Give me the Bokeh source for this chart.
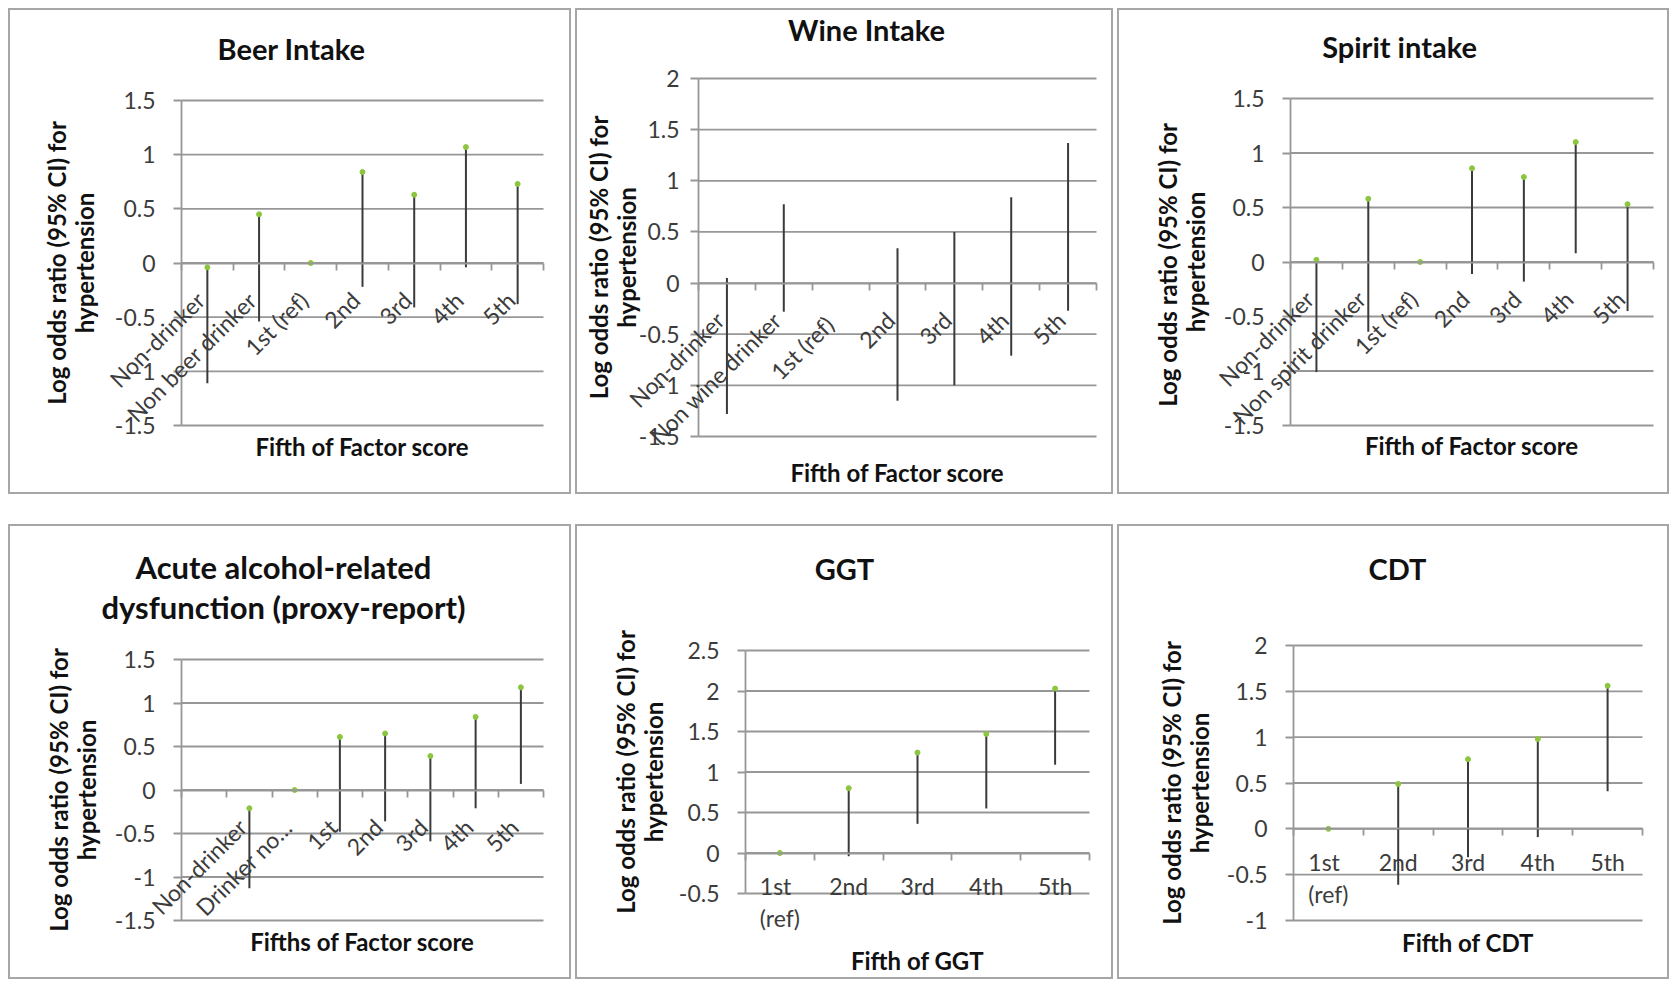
import math
from bokeh.plotting import figure
from bokeh.layouts import row, column
from bokeh.models import (FixedTicker, ColumnDataSource, Range1d, NumeralTickFormatter,
                          LabelSet, Label)
from bokeh.core.properties import value
from bokeh.embed import file_html
from bokeh.resources import INLINE

# ---------------- data ----------------
beer_categories = ["Non-drinker", "Non beer drinker", "1st (ref)", "2nd", "3rd", "4th", "5th"]
beer_high = [-0.04, 0.45, 0.0, 0.84, 0.63, 1.07, 0.73]
beer_low = [-1.11, -0.54, 0.0, -0.22, -0.41, -0.04, -0.38]
beer_point = [-0.04, 0.45, 0.0, 0.84, 0.63, 1.07, 0.73]
beer_yticks = [-1.5, -1, -0.5, 0, 0.5, 1, 1.5]

wine_categories = ["Non-drinker", "Non wine drinker", "1st  (ref)", "2nd", "3rd", "4th", "5th"]
wine_high = [0.05, 0.77, None, 0.34, 0.50, 0.84, 1.37]
wine_low = [-1.28, -0.28, None, -1.15, -1.00, -0.71, -0.27]
wine_point = [None, None, None, None, None, None, None]
wine_yticks = [-1.5, -1, -0.5, 0, 0.5, 1, 1.5, 2]

spirit_categories = ["Non-drinker", "Non spirit drinker", "1st (ref)", "2nd", "3rd", "4th", "5th"]
spirit_high = [0.02, 0.58, 0.0, 0.86, 0.78, 1.10, 0.53]
spirit_low = [-1.01, -0.64, 0.0, -0.11, -0.18, 0.08, -0.45]
spirit_point = [0.02, 0.58, 0.0, 0.86, 0.78, 1.10, 0.53]
spirit_yticks = [-1.5, -1, -0.5, 0, 0.5, 1, 1.5]

acute_categories = ["", "Non-drinker", "Drinker no\u2026", "1st", "2nd", "3rd", "4th", "5th"]
acute_high = [None, -0.21, 0.0, 0.61, 0.65, 0.39, 0.84, 1.18]
acute_low = [None, -1.13, 0.0, -0.48, -0.36, -0.59, -0.21, 0.07]
acute_point = [None, -0.21, 0.0, 0.61, 0.65, 0.39, 0.84, 1.18]
acute_yticks = [-1.5, -1, -0.5, 0, 0.5, 1, 1.5]

ggt_categories = ["1st\n(ref)", "2nd", "3rd", "4th", "5th"]
ggt_high = [0.0, 0.80, 1.24, 1.47, 2.03]
ggt_low = [0.0, -0.04, 0.36, 0.55, 1.09]
ggt_point = [0.0, 0.80, 1.24, 1.47, 2.03]
ggt_yticks = [-0.5, 0, 0.5, 1, 1.5, 2, 2.5]

cdt_categories = ["1st\n(ref)", "2nd", "3rd", "4th", "5th"]
cdt_high = [0.0, 0.49, 0.76, 0.98, 1.56]
cdt_low = [0.0, -0.61, -0.31, -0.09, 0.41]
cdt_point = [0.0, 0.49, 0.76, 0.98, 1.56]
cdt_yticks = [-1, -0.5, 0, 0.5, 1, 1.5, 2]

YLABEL = "Log odds ratio (95% CI) for\nhypertension"
YLABEL_SPIRIT = "Log odds ratio (95% CI)  for\nhypertension"

# ---------------- style ----------------
FONT = "Lato"
GRID = "#979797"
BAR = "#3a3a3a"
GREEN = "#8cc63f"
TXT = "#3c3c3c"
DARK = "#111111"
BORDER = 2


def nan(v):
    return float("nan") if v is None else v


def make_panel(title, cats, high, low, point, yticks, xtitle, ylabel,
               w, h, area, title_pos, xtitle_y, rotated,
               tick_standoff, ylabel_standoff, title_size=29, title_lh=1.1):
    n = len(cats)
    xs = list(range(1, n + 1))
    ymin, ymax = yticks[0], yticks[-1]
    vw, vh = w - 2 * BORDER, h - 2 * BORDER   # visible drawing area inside the border
    L, R, T, B = area                          # plot-area margins in pixels
    kx = (vw - L - R) / n
    ky = (vh - T - B) / (ymax - ymin)
    x_range = Range1d(0.5 - L / kx, n + 0.5 + (R + 2 * BORDER) / kx)
    y_range = Range1d(ymin - (B + 2 * BORDER) / ky, ymax + T / ky)

    p = figure(width=w, height=h, output_backend="svg", toolbar_location=None,
               x_range=x_range, y_range=y_range,
               min_border_left=0, min_border_right=0, min_border_top=0, min_border_bottom=0)
    p.styles = {"border": f"{BORDER}px solid #a6a6a6", "box-sizing": "border-box"}
    p.outline_line_color = None
    p.background_fill_color = "white"
    p.border_fill_color = "white"
    p.xgrid.grid_line_color = None
    p.ygrid.grid_line_color = None

    # horizontal gridlines across the plot area
    gsrc = ColumnDataSource(data=dict(y=yticks, x0=[0.5] * len(yticks),
                                      x1=[n + 0.5] * len(yticks)))
    p.segment(x0="x0", y0="y", x1="x1", y1="y", source=gsrc,
              line_color=GRID, line_width=1.8)

    # vertical axis
    yax = p.yaxis[0]
    yax.fixed_location = 0.5
    yax.bounds = (ymin, ymax)
    yax.ticker = FixedTicker(ticks=yticks)
    yax.formatter = NumeralTickFormatter(format="0.[0]")
    yax.axis_line_color = GRID
    yax.axis_line_width = 1.8
    yax.major_tick_line_color = GRID
    yax.major_tick_line_width = 1.8
    yax.major_tick_out = 8
    yax.major_tick_in = 0
    yax.minor_tick_line_color = None
    yax.major_label_standoff = tick_standoff
    yax.major_label_text_font = FONT
    yax.major_label_text_font_size = "23px"
    yax.major_label_text_color = TXT
    yax.axis_label = ylabel
    yax.axis_label_text_font = FONT
    yax.axis_label_text_font_size = "24px"
    yax.axis_label_text_font_style = "bold"
    yax.axis_label_text_color = DARK
    yax.axis_label_text_line_height = 0.95
    yax.axis_label_standoff = ylabel_standoff

    # horizontal axis crossing at y = 0 (tick marks between categories)
    xax = p.xaxis[0]
    xax.fixed_location = 0
    xax.bounds = (0.5, n + 0.5)
    xax.ticker = FixedTicker(ticks=[], minor_ticks=[i + 0.5 for i in range(0, n + 1)])
    xax.axis_line_color = GRID
    xax.axis_line_width = 1.8
    xax.major_tick_line_color = None
    xax.major_tick_out = 0
    xax.major_tick_in = 0
    xax.minor_tick_line_color = GRID
    xax.minor_tick_line_width = 1.8
    xax.minor_tick_out = 7
    xax.minor_tick_in = 0
    xax.major_label_text_font_size = "0px"

    src = ColumnDataSource(data=dict(x=xs, high=[nan(v) for v in high],
                                     low=[nan(v) for v in low],
                                     point=[nan(v) for v in point], label=cats))

    p.segment(x0="x", y0="low", x1="x", y1="high", source=src,
              line_color=BAR, line_width=2)
    p.scatter(x="x", y="point", source=src, marker="circle", size=5,
              fill_color=GREEN, line_color=GREEN)

    # category labels
    if rotated:
        labels = LabelSet(x="x", y=0, text="label", source=src, angle=math.pi / 4,
                          text_align="right", text_baseline="middle",
                          x_offset=-7, y_offset=-33)
    else:
        labels = LabelSet(x="x", y=0, text="label", source=src,
                          text_align="center", text_baseline="top",
                          y_offset=-19, text_line_height=1.16)
    labels.text_font = value(FONT)
    labels.text_font_size = value("23px")
    labels.text_color = TXT
    p.add_layout(labels)

    # chart title and horizontal-axis title (screen units from canvas bottom-left)
    tx, ty = title_pos
    p.add_layout(Label(x=tx, y=h - ty, x_units="screen", y_units="screen", text=title,
                       text_align="center", text_baseline="middle", text_font=FONT,
                       text_font_size=f"{title_size}px", text_font_style="bold",
                       text_color=DARK, text_line_height=title_lh))
    p.add_layout(Label(x=L + (vw - L - R) / 2, y=h - xtitle_y, x_units="screen",
                       y_units="screen", text=xtitle, text_align="center",
                       text_baseline="middle", text_font=FONT, text_font_size="24px",
                       text_font_style="bold", text_color=DARK))
    return p


p1 = make_panel("Beer Intake", beer_categories, beer_high, beer_low, beer_point, beer_yticks,
                "Fifth of Factor score", YLABEL, 563, 486, (171, 26, 90, 67),
                (281, 37.5), 435.5, True, 18, 13)
p2 = make_panel("Wine Intake", wine_categories, wine_high, wine_low, wine_point, wine_yticks,
                "Fifth of Factor score", YLABEL, 538, 486, (121, 15, 68, 56),
                (289, 19), 462, True, 11, -5)
p3 = make_panel("Spirit intake", spirit_categories, spirit_high, spirit_low, spirit_point,
                spirit_yticks, "Fifth of Factor score", YLABEL_SPIRIT, 552, 486,
                (171, 14, 88, 67), (280, 35.5), 434.5, True, 18, 11)
p4 = make_panel("Acute alcohol-related\ndysfunction (proxy-report)", acute_categories,
                acute_high, acute_low, acute_point, acute_yticks, "Fifths of Factor score",
                YLABEL, 563, 455, (171, 26, 133, 57), (273, 60.5), 414.5, True, 18, 11,
                title_size=31, title_lh=1.04)
p5 = make_panel("GGT", ggt_categories, ggt_high, ggt_low, ggt_point, ggt_yticks,
                "Fifth of GGT", YLABEL, 538, 455, (168, 22, 124, 84),
                (267, 41.5), 434, False, 18, 8)
p6 = make_panel("CDT", cdt_categories, cdt_high, cdt_low, cdt_point, cdt_yticks,
                "Fifth of CDT", YLABEL, 552, 455, (174, 25, 119, 57),
                (278, 41.5), 415.5, False, 18, 10)

layout = column(row(p1, p2, p3, spacing=4), row(p4, p5, p6, spacing=4), spacing=30,
                margin=(8, 0, 0, 8))

with open("out.html", "w") as f:
    f.write(file_html(layout, INLINE))
